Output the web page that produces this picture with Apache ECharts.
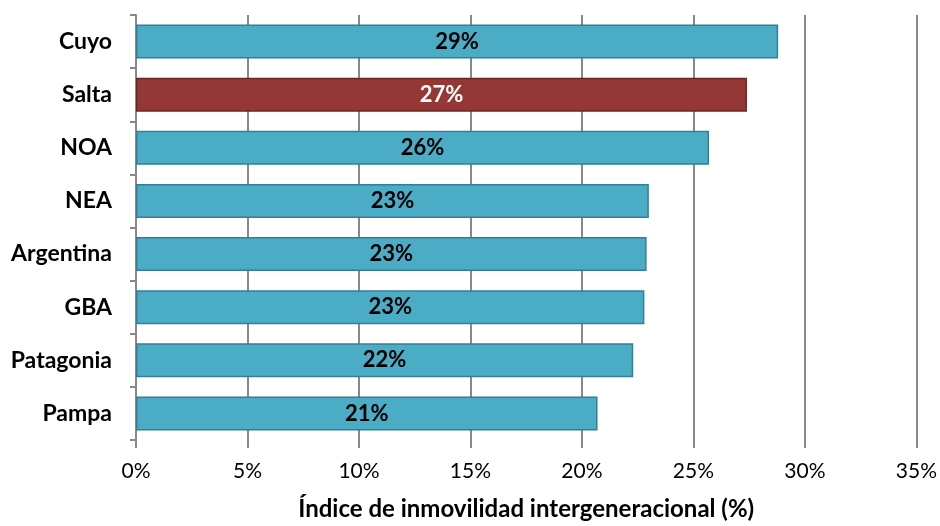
<!DOCTYPE html>
<html><head><meta charset="utf-8">
<script src="https://cdn.jsdelivr.net/npm/echarts@6/dist/echarts.min.js"></script>
<style>html,body{margin:0;padding:0;background:#fff}#c{width:940px;height:526px}</style>
</head><body><div id="c"></div>
<script>
const categories = ["Cuyo", "Salta", "NOA", "NEA", "Argentina", "GBA", "Patagonia", "Pampa"];
const values = [28.8, 27.4, 25.7, 23.0, 22.9, 22.8, 22.3, 20.7];
const highlight = "Salta";
const xTicks = [0, 5, 10, 15, 20, 25, 30, 35];
const axisTitle = "Índice de inmovilidad intergeneracional (%)";

const FONT = "Lato";
const chart = echarts.init(document.getElementById('c'), null, {renderer: 'canvas'});
const data = categories.map((c, i) => {
  const hi = c === highlight;
  return {
    value: values[i],
    itemStyle: {
      color: hi ? '#953735' : '#4BACC6',
      borderColor: hi ? '#6E2624' : '#357F94',
      borderWidth: 1.5
    },
    label: { color: hi ? '#ffffff' : '#000000' }
  };
});
chart.setOption({
  animation: false,
  grid: { left: 136, right: 22, top: 15, bottom: 82 },
  xAxis: {
    type: 'value', min: xTicks[0], max: xTicks[xTicks.length - 1], interval: 5,
    name: axisTitle, nameLocation: 'middle', nameGap: 57,
    nameTextStyle: { fontFamily: FONT, fontWeight: 'bold', fontSize: 24, color: '#000' },
    axisLine: { show: false },
    axisTick: { show: true, length: 8, lineStyle: { color: '#888', width: 2 } },
    splitLine: { show: true, lineStyle: { color: '#888', width: 2 } },
    axisLabel: { fontFamily: FONT, fontSize: 21, color: '#000', margin: 21, formatter: v => v + '%' }
  },
  yAxis: {
    type: 'category', data: categories, inverse: true,
    axisLine: { show: true, lineStyle: { color: '#888', width: 2 } },
    axisTick: { show: true, length: 6, lineStyle: { color: '#888', width: 2 } },
    axisLabel: { fontFamily: FONT, fontWeight: 'bold', fontSize: 23, color: '#000', margin: 24 }
  },
  series: [{
    type: 'bar', data: data, barCategoryGap: '36%',
    label: {
      show: true, position: 'inside', fontFamily: FONT, fontWeight: 'bold', fontSize: 22,
      formatter: p => Math.round(p.value) + '%'
    }
  }]
});
</script></body></html>
